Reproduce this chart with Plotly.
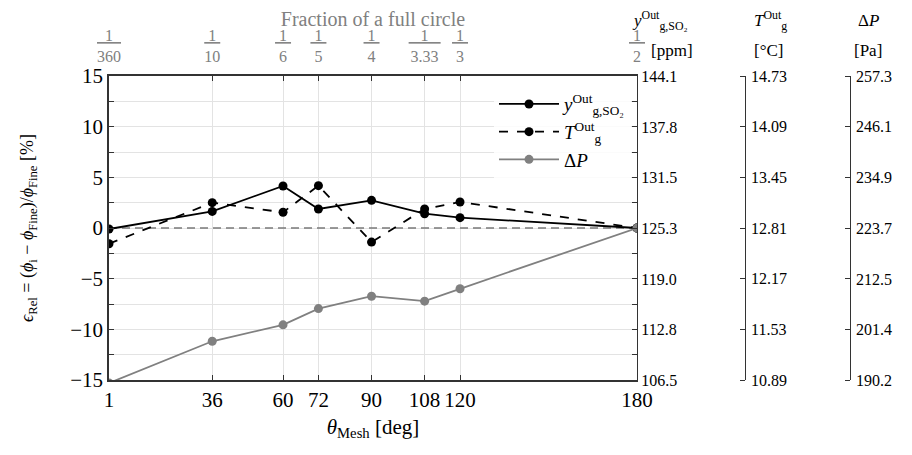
import plotly.graph_objects as go

# mesh angles and top-axis fraction denominators
theta = [1, 36, 60, 72, 90, 108, 120, 180]
frac_den = ["360", "10", "6", "5", "4", "3.33", "3", "2"]

# relative error [%] vs finest mesh
err_so2 = [-0.1, 1.64, 4.15, 1.88, 2.73, 1.41, 1.02, 0.0]
err_t = [-1.55, 2.5, 1.55, 4.18, -1.39, 1.88, 2.57, 0.0]
err_dp = [-15.3, -11.18, -9.56, -7.95, -6.73, -7.22, -6.0, 0.0]

# left axis ticks and right axes tick labels
left_ticks = [-15, -10, -5, 0, 5, 10, 15]
so2_ticks = ["106.5", "112.8", "119.0", "125.3", "131.5", "137.8", "144.1"]
t_ticks = ["10.89", "11.53", "12.17", "12.81", "13.45", "14.09", "14.73"]
dp_ticks = ["190.2", "201.4", "212.5", "223.7", "234.9", "246.1", "257.3"]

SERIF = "Liberation Serif, DejaVu Serif, serif"
GREY = "#808080"
GRID = "#e3e3e3"
SPINE = "#333333"

# the page body adds an 8px offset; work in target pixel coords
OFF = 8
W, H = 912, 455
ML, MR = 109 - OFF, 8
MT = 76 - OFF
MB = H - MT - 304
PW = W - ML - MR


def px(x):
    # target pixel column -> paper fraction
    return (x - OFF - ML) / PW


def frac_label(den):
    pad = "\u00a0" * max(1, len(den) - 1)
    return f"<u>{pad}1{pad}</u><br>{den}"


fig = go.Figure()

# zero reference line (below the data)
fig.add_trace(go.Scatter(x=[theta[0], theta[-1]], y=[0, 0], mode="lines",
                         line=dict(color="#7a7a7a", width=1.3, dash="8px,5px"),
                         showlegend=False, hoverinfo="skip"))

fig.add_trace(go.Scatter(x=theta, y=err_so2, mode="lines+markers",
                         name="<i>y</i><sup>Out</sup><sub>g,SO₂</sub>",
                         line=dict(color="black", width=1.8),
                         marker=dict(color="black", size=9)))
fig.add_trace(go.Scatter(x=theta, y=err_t, mode="lines+markers",
                         name="<i>T</i><sup>Out</sup><sub>g</sub>",
                         line=dict(color="black", width=1.8, dash="dash"),
                         marker=dict(color="black", size=9)))
fig.add_trace(go.Scatter(x=theta, y=err_dp, mode="lines+markers",
                         name="Δ<i>P</i>",
                         line=dict(color=GREY, width=1.8),
                         marker=dict(color=GREY, size=9)))

# invisible trace to hold the top axis
fig.add_trace(go.Scatter(x=theta, y=[None] * len(theta), xaxis="x2", yaxis="y",
                         showlegend=False, hoverinfo="skip"))

# right axes (share the relative scale)
for ax in ("y2", "y3", "y4", "y5", "y6"):
    fig.add_trace(go.Scatter(x=theta, y=[None] * len(theta), yaxis=ax,
                             showlegend=False, hoverinfo="skip"))


def right_axis(labels, **kw):
    vals = [float(t) for t in labels]
    d = dict(range=[vals[0], vals[-1]], tickvals=vals, ticktext=labels,
             overlaying="y", side="right", showgrid=False, zeroline=False,
             showline=True, linecolor=SPINE, linewidth=1.3,
             ticks="inside", ticklen=5, tickcolor=SPINE, tickwidth=1.3,
             tickfont=dict(family=SERIF, size=16, color="black"))
    d.update(kw)
    return d


def free_spine(labels, xpix):
    # line + left-pointing ticks, no labels
    return right_axis(labels, anchor="free", position=px(xpix), side="left",
                      ticks="outside", showticklabels=False)


def free_labels(labels, xpix):
    # labels only, to the right of the spine
    return right_axis(labels, anchor="free", position=px(xpix), side="right",
                      ticks="", showline=False, ticklabelstandoff=5)


so2_vals = [float(t) for t in so2_ticks]
so2_minor = [(a + b) / 2 for a, b in zip(so2_vals[:-1], so2_vals[1:])]

fig.update_layout(
    width=W, height=H,
    margin=dict(l=ML, r=MR, t=MT, b=MB, autoexpand=False),
    plot_bgcolor="white", paper_bgcolor="white",
    font=dict(family=SERIF, size=18, color="black"),
    showlegend=True,
    legend=dict(x=px(494), y=0.97, xanchor="left", yanchor="top",
                bgcolor="rgba(255,255,255,0.85)", borderwidth=0,
                font=dict(family=SERIF, size=19), itemwidth=60,
                tracegroupgap=0),
    xaxis=dict(domain=[0, px(637)], range=[1, 180], tickvals=theta,
               ticktext=[str(t) for t in theta],
               showgrid=True, gridcolor=GRID, gridwidth=1, zeroline=False,
               showline=True, linecolor=SPINE, linewidth=1.5,
               ticks="inside", ticklen=5, tickcolor=SPINE,
               tickfont=dict(family=SERIF, size=21),
               title=dict(text="<i>θ</i><sub>Mesh</sub> [deg]",
                          font=dict(family=SERIF, size=21), standoff=8)),
    xaxis2=dict(domain=[0, px(637)], range=[1, 180], overlaying="x", side="top",
                anchor="y", tickvals=theta,
                ticktext=[frac_label(d) for d in frac_den],
                showgrid=False, zeroline=False,
                showline=True, linecolor=SPINE, linewidth=1.5,
                ticks="inside", ticklen=5, tickcolor=SPINE, ticklabelstandoff=6,
                tickfont=dict(family=SERIF, size=16, color=GREY),
                title=dict(text="Fraction of a full circle",
                           font=dict(family=SERIF, size=20, color=GREY), standoff=14)),
    yaxis=dict(range=[-15, 15], tickvals=left_ticks,
               showgrid=True, gridcolor=GRID, gridwidth=1, zeroline=False,
               showline=True, linecolor=SPINE, linewidth=1.5,
               ticks="inside", ticklen=5, tickcolor=SPINE,
               minor=dict(dtick=2.5, tick0=0, showgrid=True, gridcolor=GRID,
                          ticks="inside", ticklen=5, tickcolor=SPINE),
               tickfont=dict(family=SERIF, size=21),
               title=dict(text="<i>ϵ</i><sub>Rel</sub> = (<i>ϕ</i><sub>i</sub> − <i>ϕ</i><sub>Fine</sub>)/<i>ϕ</i><sub>Fine</sub> [%]",
                          font=dict(family=SERIF, size=18), standoff=32)),
    yaxis2=right_axis(so2_ticks, anchor="x",
                      minor=dict(tickvals=so2_minor, ticks="inside", ticklen=5,
                                 tickcolor=SPINE)),
    yaxis3=free_spine(t_ticks, 745),
    yaxis4=free_spine(dp_ticks, 850),
    yaxis5=free_labels(t_ticks, 745),
    yaxis6=free_labels(dp_ticks, 850),
)

# right-axis headers: symbol line and unit line
headers = [
    (660, "<i>y</i><sup>Out</sup><sub>g,SO₂</sub>", 672, "[ppm]"),
    (770, "<i>T</i><sup>Out</sup><sub>g</sub>", 768, "[°C]"),
    (868, "Δ<i>P</i>", 868, "[Pa]"),
]
for xs, sym, xu, unit in headers:
    fig.add_annotation(x=px(xs), y=1.0, xref="paper", yref="paper",
                       xanchor="center", yanchor="middle", yshift=56,
                       text=sym, showarrow=False,
                       font=dict(family=SERIF, size=17, color="black"))
    fig.add_annotation(x=px(xu), y=1.0, xref="paper", yref="paper",
                       xanchor="center", yanchor="middle", yshift=26,
                       text=unit, showarrow=False,
                       font=dict(family=SERIF, size=17, color="black"))

fig.write_html("out.html")
